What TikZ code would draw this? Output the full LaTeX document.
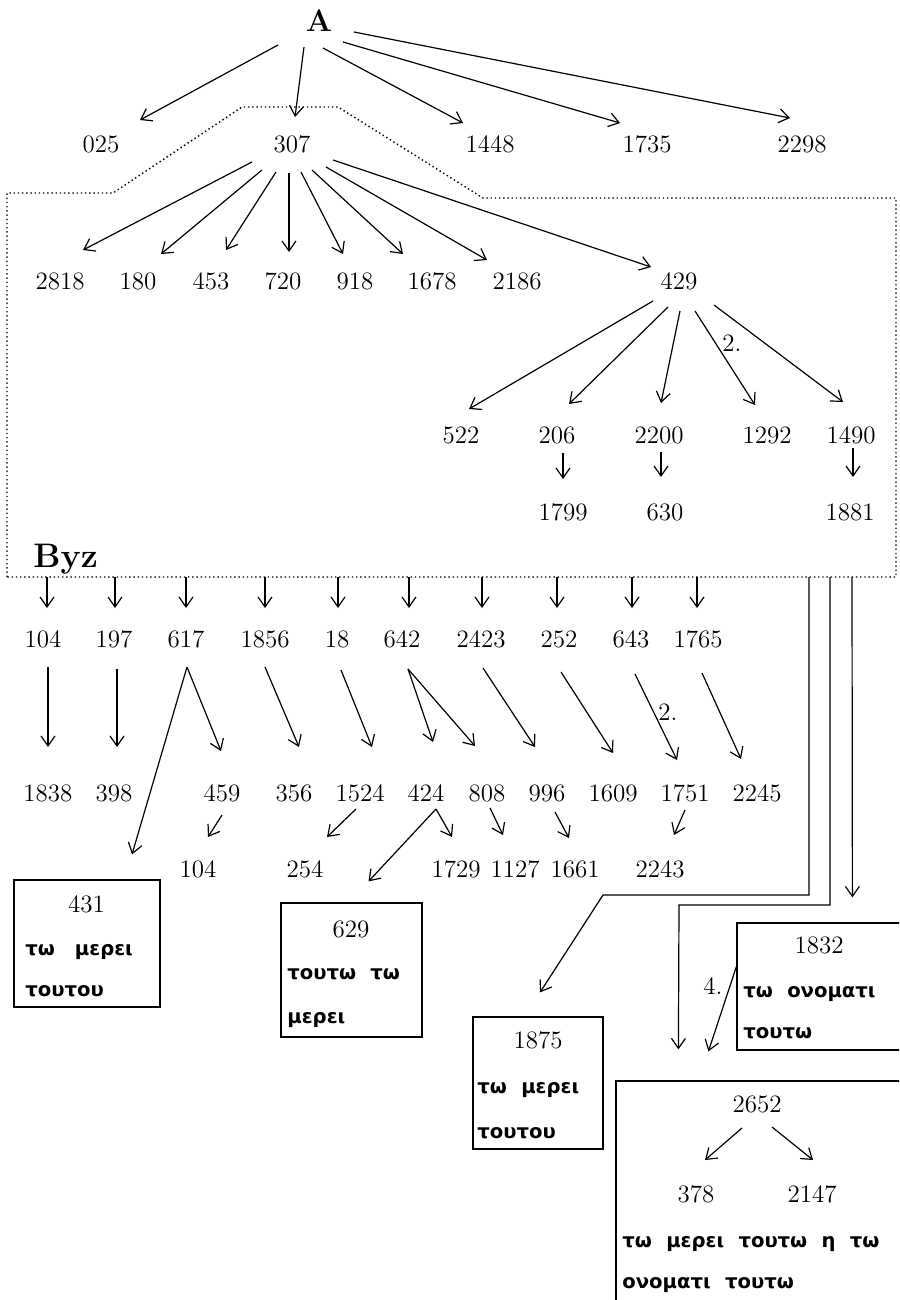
\documentclass[tikz,border=0pt]{standalone}
\usepackage{fontspec}
\newfontfamily\grk[WordSpace=2.1]{DejaVu Sans}
\usetikzlibrary{arrows.meta, calc}

\begin{document}
\begin{tikzpicture}[x=0.5pt, y=-0.5pt,
    ms/.style={font=\fontsize{12.5}{14}\selectfont, inner sep=0pt},
    arr/.style={-{Straight Barb[length=5pt, width=7pt]}, line width=0.6pt},
    wit/.style={draw, line width=0.6pt, inner sep=0pt},
    rdg/.style={font=\grk\bfseries\fontsize{9.8}{11}\selectfont,
                anchor=base west, inner sep=0pt},
    fam/.style={line width=0.7pt, dash pattern=on 0.7pt off 1.4pt}
  ]
    \clip (0,0) rectangle (899,1300);

    % text types
    \node[font=\fontsize{15.5}{18}\selectfont\bfseries, inner sep=0pt] (mA) at (319,21) {A};
    \node[font=\fontsize{17}{20}\selectfont\bfseries, inner sep=0pt, anchor=base west] (mByz) at (33,567) {Byz};

    % Byzantine family
    \draw[fam] (7,577) -- (7,193) -- (113,193) -- (242,107) -- (338,107)
      -- (483,198) -- (896,198) -- (896,577) -- cycle;

    \node[ms] (m025) at (101,144) {025};
    \node[ms] (m307) at (292,144) {307};
    \node[ms] (m1448) at (490,144) {1448};
    \node[ms] (m1735) at (647,144) {1735};
    \node[ms] (m2298) at (802,144) {2298};

    \node[ms] (m2818) at (60,281) {2818};
    \node[ms] (m180) at (138,281) {180};
    \node[ms] (m453) at (211,281) {453};
    \node[ms] (m720) at (283,281) {720};
    \node[ms] (m918) at (355,281) {918};
    \node[ms] (m1678) at (432,281) {1678};
    \node[ms] (m2186) at (517,281) {2186};
    \node[ms] (m429) at (679,281) {429};

    \node[ms] (m522) at (461,435) {522};
    \node[ms] (m206) at (557,435) {206};
    \node[ms] (m2200) at (659,435) {2200};
    \node[ms] (m1292) at (767,435) {1292};
    \node[ms] (m1490) at (851,435) {1490};

    \node[ms] (m1799) at (563,512) {1799};
    \node[ms] (m630) at (665,512) {630};
    \node[ms] (m1881) at (850,512) {1881};

    \node[ms] (m104) at (43,639) {104};
    \node[ms] (m197) at (114,639) {197};
    \node[ms] (m617) at (186,639) {617};
    \node[ms] (m1856) at (265,639) {1856};
    \node[ms] (m18) at (337,639) {18};
    \node[ms] (m642) at (402,639) {642};
    \node[ms] (m2423) at (481,639) {2423};
    \node[ms] (m252) at (559,639) {252};
    \node[ms] (m643) at (631,639) {643};
    \node[ms] (m1765) at (698,639) {1765};

    \node[ms] (m1838) at (48,793) {1838};
    \node[ms] (m398) at (114,793) {398};
    \node[ms] (m459) at (222,793) {459};
    \node[ms] (m356) at (294,793) {356};
    \node[ms] (m1524) at (360,793) {1524};
    \node[ms] (m424) at (426,793) {424};
    \node[ms] (m808) at (487,793) {808};
    \node[ms] (m996) at (547,793) {996};
    \node[ms] (m1609) at (613,793) {1609};
    \node[ms] (m1751) at (685,793) {1751};
    \node[ms] (m2245) at (757,793) {2245};

    \node[ms] (m104b) at (198,869) {104};
    \node[ms] (m254) at (305,869) {254};
    \node[ms] (m1729) at (456,869) {1729};
    \node[ms] (m1127) at (515,869) {1127};
    \node[ms] (m1661) at (575,869) {1661};
    \node[ms] (m2243) at (660,869) {2243};

    % witnesses with readings
    \node[wit, minimum width=73pt, minimum height=63.5pt] (b431) at (87,943.5) {};
    \node[ms] (m431) at (86.5,904) {431};
    \node[rdg] (r431a) at (25,955) {τω\hspace{10pt}μερει};
    \node[rdg] (r431b) at (25,996) {τουτου};

    \node[wit, minimum width=70.5pt, minimum height=67pt] (b629) at (351.5,970) {};
    \node[ms] (m629) at (351,929) {629};
    \node[rdg] (r629a) at (287,979) {τουτω τω};
    \node[rdg] (r629b) at (287,1023) {μερει};

    \node[wit, minimum width=65pt, minimum height=66pt] (b1875) at (538,1083) {};
    \node[ms] (m1875) at (538,1040) {1875};
    \node[rdg] (r1875a) at (477,1093) {τω μερει};
    \node[rdg] (r1875b) at (477,1138) {τουτου};

    \node[wit, minimum width=86.5pt, minimum height=63.5pt] (b1832) at (823.5,986.5) {};
    \node[ms] (m1832) at (819,945) {1832};
    \node[rdg] (r1832a) at (743,997) {τω ονοματι};
    \node[rdg] (r1832b) at (743,1038) {τουτω};

    \node[wit, minimum width=147pt, minimum height=114.5pt] (b2652) at (763,1195.5) {};
    \node[ms] (m2652) at (757,1104) {2652};
    \node[ms] (m378) at (696,1194) {378};
    \node[ms] (m2147) at (812,1194) {2147};
    \node[rdg] (r2652a) at (622,1247) {τω μερει τουτω η τω};
    \node[rdg] (r2652b) at (622,1288) {ονοματι τουτω};

    % A
    \draw[arr] ($(mA)+(-41,24)$) -- ($(m025)+(39,-24)$);
    \draw[arr] ($(mA)+(-15,26)$) -- ($(m307)+(3,-27)$);
    \draw[arr] ($(mA)+(4,27)$) -- ($(m1448)+(-27,-21)$);
    \draw[arr] ($(mA)+(24,21)$) -- ($(m1735)+(-27,-21)$);
    \draw[arr] ($(mA)+(35,11)$) -- ($(m2298)+(-12,-26)$);

    % 307 and 429
    \draw[arr] ($(m307)+(-40,18)$) -- ($(m2818)+(23,-31)$);
    \draw[arr] ($(m307)+(-30,26)$) -- ($(m180)+(23,-27)$);
    \draw[arr] ($(m307)+(-16,28)$) -- ($(m453)+(15,-31)$);
    \draw[arr] ($(m307)+(-3,29)$) -- ($(m720)+(6,-29)$);
    \draw[arr] ($(m307)+(9,28)$) -- ($(m918)+(-12,-27)$);
    \draw[arr] ($(m307)+(20,26)$) -- ($(m1678)+(-29,-27)$);
    \draw[arr] ($(m307)+(34,23)$) -- ($(m2186)+(-30,-21)$);
    \draw[arr] ($(m307)+(41,16)$) -- ($(m429)+(-28,-14)$);

    \draw[arr] ($(m429)+(-26,20)$) -- ($(m522)+(8,-26)$);
    \draw[arr] ($(m429)+(-11,26)$) -- ($(m206)+(12,-31)$);
    \draw[arr] ($(m429)+(1,30)$) -- ($(m2200)+(2,-32)$);
    \draw[arr] ($(m429)+(16,30)$) -- ($(m1292)+(-12,-30)$);
    \node[ms] (l1292) at (732,343) {2.};
    \draw[arr] ($(m429)+(35,24)$) -- ($(m1490)+(-8,-33)$);

    \draw[arr] ($(m206)+(6,18)$) -- ($(m1799)+(0,-33)$);
    \draw[arr] ($(m2200)+(2,17)$) -- ($(m630)+(-4,-35)$);
    \draw[arr] ($(m1490)+(2,13)$) -- ($(m1881)+(3,-35)$);

    % out of Byz
    \coordinate (z104) at (47,577);
    \coordinate (z197) at (115,577);
    \coordinate (z617) at (186,577);
    \coordinate (z1856) at (265,577);
    \coordinate (z18) at (338,577);
    \coordinate (z642) at (409,577);
    \coordinate (z2423) at (482,577);
    \coordinate (z252) at (557,577);
    \coordinate (z643) at (632,577);
    \coordinate (z1765) at (697,577);
    \draw[arr] (z104) -- ($(m104)+(4,-31)$);
    \draw[arr] (z197) -- ($(m197)+(1,-31)$);
    \draw[arr] (z617) -- ($(m617)+(0,-31)$);
    \draw[arr] (z1856) -- ($(m1856)+(0,-31)$);
    \draw[arr] (z18) -- ($(m18)+(1,-31)$);
    \draw[arr] (z642) -- ($(m642)+(7,-31)$);
    \draw[arr] (z2423) -- ($(m2423)+(1,-31)$);
    \draw[arr] (z252) -- ($(m252)+(-2,-31)$);
    \draw[arr] (z643) -- ($(m643)+(1,-31)$);
    \draw[arr] (z1765) -- ($(m1765)+(-1,-31)$);

    \draw[arr] ($(m104)+(5,28)$) -- ($(m1838)+(0,-46)$);
    \draw[arr] ($(m197)+(3,30)$) -- ($(m398)+(3,-46)$);
    \draw[arr] ($(m617)+(1,28)$) -- ($(m459)+(-1,-42)$);
    \draw[arr] ($(m617)+(1,28)$) -- ($(b431.north)+(45,-25)$);
    \draw[arr] ($(m1856)+(0,28)$) -- ($(m356)+(5,-46)$);
    \draw[arr] ($(m18)+(4,31)$) -- ($(m1524)+(12,-46)$);
    \draw[arr] ($(m642)+(6,30)$) -- ($(m424)+(7,-51)$);
    \draw[arr] ($(m642)+(6,30)$) -- ($(m808)+(-12,-47)$);
    \draw[arr] ($(m2423)+(2,29)$) -- ($(m996)+(-12,-46)$);
    \draw[arr] ($(m252)+(2,33)$) -- ($(m1609)+(0,-40)$);
    \draw[arr] ($(m643)+(4,35)$) -- ($(m1751)+(-8,-33)$);
    \node[ms] (l1751) at (668,712) {2.};
    \draw[arr] ($(m1765)+(4,34)$) -- ($(m2245)+(-16,-34)$);

    \draw[arr] ($(m459)+(0,22)$) -- ($(m104b)+(10,-32)$);
    \draw[arr] ($(m1524)+(-4,16)$) -- ($(m254)+(22,-32)$);
    \draw[arr] ($(m424)+(10,16)$) -- ($(m1729)+(-4,-32)$);
    \draw[arr] ($(m424)+(10,16)$) -- ($(b629.north)+(17,-21)$);
    \draw[arr] ($(m808)+(3,15)$) -- ($(m1127)+(-12,-34)$);
    \draw[arr] ($(m996)+(8,19)$) -- ($(m1661)+(-6,-31)$);
    \draw[arr] ($(m1751)+(0,17)$) -- ($(m2243)+(14,-34)$);

    % lines down the right side
    \coordinate (zA) at (809,577);
    \coordinate (zB) at (830,577);
    \coordinate (zC) at (852,577);
    \coordinate (kA) at (603,895);
    \coordinate (kB) at (679,905);
    \draw[arr] (zA) |- (kA) -- ($(b1875.north)+(2,-24)$);
    \draw[arr] (zB) |- (kB) -- ($(b2652.north west)+(63,-31)$);
    \draw[arr] (zC) -- ($(b1832.north west)+(116,-25)$);
    \draw[arr] ($(b1832.west)+(0,-20)$) -- ($(b2652.north west)+(93,-29)$);
    \node[ms] (l4) at (713,986) {4.};

    \draw[arr] ($(m2652)+(-15,24)$) -- ($(m378)+(9,-34)$);
    \draw[arr] ($(m2652)+(15,23)$) -- ($(m2147)+(1,-34)$);
  \end{tikzpicture}
\end{document}
